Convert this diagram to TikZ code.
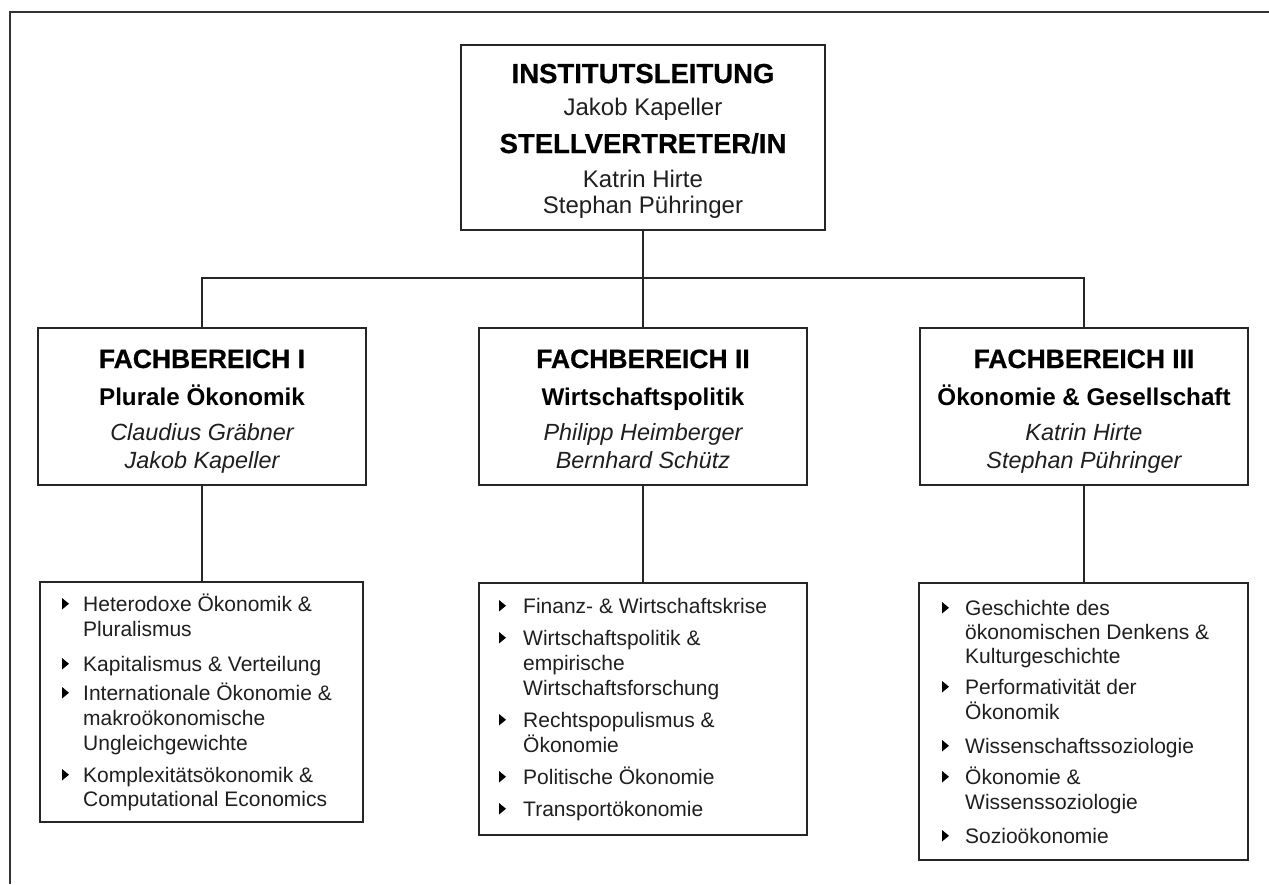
\documentclass[tikz,border=0pt]{standalone}
\usepackage{fontspec}
\setmainfont{Liberation Sans}
\newfontfamily\hdfont{Liberation Sans}[BoldFeatures={FakeBold=0.6}]
\newcommand\bul[2]{\fill[black] (#1,#2-13) -- (#1,#2-1.5) -- (#1+7,#2-7.25) -- cycle;}
\begin{document}
\begin{tikzpicture}[x=1pt,y=-1pt,
  box/.style={draw=black!85, line width=1.9pt, inner sep=0pt, fill=white},
  conn/.style={draw=black!85, line width=1.9pt},
  frame/.style={draw=black!80, line width=1.2pt},
  hdtop/.style={anchor=base, inner sep=0pt, font=\fontsize{27.5}{30}\selectfont\hdfont\bfseries},
  hd/.style={anchor=base, inner sep=0pt, font=\fontsize{26.5}{30}\selectfont\hdfont\bfseries},
  sub/.style={anchor=base, inner sep=0pt, font=\fontsize{24.2}{28}\selectfont\bfseries},
  nm/.style={anchor=base, inner sep=0pt, text=black!88, font=\fontsize{24}{27}\selectfont},
  inm/.style={anchor=base, inner sep=0pt, text=black!88, font=\fontsize{23.4}{27}\selectfont\itshape},
  itm/.style={anchor=base west, inner sep=0pt, text=black!88, font=\fontsize{21}{25}\selectfont},
]
\useasboundingbox (0,0) rectangle (1269,884);
\fill[white] (0,0) rectangle (1269,884);
\draw[frame] (10,884) -- (10,12) -- (1269,12);

% boxes
\node[box, minimum width=364pt, minimum height=185pt] (top) at (643,137.5) {};
\node[box, minimum width=328pt, minimum height=157pt] (f1) at (202,406.5) {};
\node[box, minimum width=328pt, minimum height=157pt] (f2) at (643,406.5) {};
\node[box, minimum width=328pt, minimum height=157pt] (f3) at (1084,406.5) {};
\node[box, minimum width=323pt, minimum height=240pt] (l1) at (201.5,702) {};
\node[box, minimum width=328pt, minimum height=252pt] (l2) at (643,709) {};
\node[box, minimum width=329pt, minimum height=277pt] (l3) at (1083.5,721.5) {};

% connectors
\coordinate (bus) at (643,278);
\draw[conn] (top.south) -- (bus);
\draw[conn] (f1.north) |- (bus) -| (f3.north);
\draw[conn] (bus) -- (f2.north);
\draw[conn] (f1.south) -- (f1.south |- l1.north);
\draw[conn] (f2.south) -- (f2.south |- l2.north);
\draw[conn] (f3.south) -- (f3.south |- l3.north);

% top box text
\node[hdtop] (t1) at (643,83) {INSTITUTSLEITUNG};
\node[nm] (t2) at (643,115) {Jakob Kapeller};
\node[hdtop] (t3) at (643,153) {STELLVERTRETER/IN};
\node[nm] (t4) at (643,187) {Katrin Hirte};
\node[nm] (t5) at (643,213) {Stephan Pühringer};

% Fachbereich texts
\node[hd] (a1) at (202,368) {FACHBEREICH I};
\node[sub] (a2) at (202,405) {Plurale Ökonomik};
\node[inm] (a3) at (202,440) {Claudius Gräbner};
\node[inm] (a4) at (202,468) {Jakob Kapeller};

\node[hd] (b1) at (643,368) {FACHBEREICH II};
\node[sub] (b2) at (643,405) {Wirtschaftspolitik};
\node[inm] (b3) at (643,440) {Philipp Heimberger};
\node[inm] (b4) at (643,468) {Bernhard Schütz};

\node[hd] (c1) at (1084,368) {FACHBEREICH III};
\node[sub] (c2) at (1084,405) {Ökonomie \& Gesellschaft};
\node[inm] (c3) at (1084,440) {Katrin Hirte};
\node[inm] (c4) at (1084,468) {Stephan Pühringer};

% list I
\bul{62}{611}
\node[itm] (p1) at (83,611) {Heterodoxe Ökonomik \&};
\node[itm] (p2) at (83,636) {Pluralismus};
\bul{62}{671}
\node[itm] (p3) at (83,671) {Kapitalismus \& Verteilung};
\bul{62}{700}
\node[itm] (p4) at (83,700) {Internationale Ökonomie \&};
\node[itm] (p5) at (83,725) {makroökonomische};
\bul{62}{782}
\node[itm] (p6) at (83,750) {Ungleichgewichte};
\node[itm] (p7) at (83,782) {Komplexitätsökonomik \&};
\node[itm] (p8) at (83,806) {Computational Economics};

% list II
\bul{499}{613}
\node[itm] (q1) at (523,613) {Finanz- \& Wirtschaftskrise};
\bul{499}{645}
\node[itm] (q2) at (523,645) {Wirtschaftspolitik \&};
\node[itm] (q3) at (523,670) {empirische};
\node[itm] (q4) at (523,695) {Wirtschaftsforschung};
\bul{499}{727}
\node[itm] (q5) at (523,727) {Rechtspopulismus \&};
\node[itm] (q6) at (523,752) {Ökonomie};
\bul{499}{784}
\node[itm] (q7) at (523,784) {Politische Ökonomie};
\bul{499}{816}
\node[itm] (q8) at (523,816) {Transportökonomie};

% list III
\bul{942}{615}
\node[itm] (r1) at (965,615) {Geschichte des};
\node[itm] (r2) at (965,639) {ökonomischen Denkens \&};
\node[itm] (r3) at (965,663) {Kulturgeschichte};
\bul{942}{694}
\node[itm] (r4) at (965,694) {Performativität der};
\node[itm] (r5) at (965,719) {Ökonomik};
\bul{942}{753}
\node[itm] (r6) at (965,753) {Wissenschaftssoziologie};
\bul{942}{784}
\node[itm] (r7) at (965,784) {Ökonomie \&};
\node[itm] (r8) at (965,809) {Wissenssoziologie};
\bul{942}{843}
\node[itm] (r9) at (965,843) {Sozioökonomie};
\end{tikzpicture}
\end{document}
